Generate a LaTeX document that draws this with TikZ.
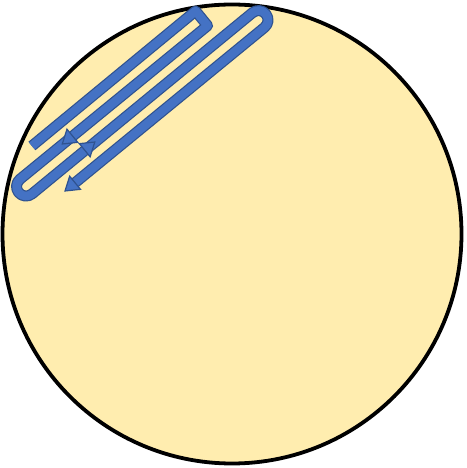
\documentclass[tikz,border=0pt]{standalone}
\usetikzlibrary{calc}
\definecolor{dishfill}{HTML}{FFEDAF}
\definecolor{streakblue}{HTML}{4472C4}
\definecolor{streakdark}{HTML}{2F528F}
\tikzset{
  dish/.style={draw=black, line width=3.8pt, fill=dishfill},
  streakout/.style={draw=streakdark, line width=11pt, line join=round, line cap=butt},
  streakin/.style={draw=streakblue, line width=8.6pt, line join=round, line cap=butt},
  headtri/.style={draw=streakdark, line width=1.2pt, fill=streakblue, line join=miter},
}
\begin{document}
\begin{tikzpicture}[x=1pt,y=1pt]
\useasboundingbox (0,0) rectangle (466,468);
\node[circle, dish, minimum size=459pt, inner sep=0pt] (plate) at (232,234) {};
% path points
\coordinate (s) at (31.9,322);
\coordinate (t1) at (195.6,457);
\coordinate (t2) at (207.6,442.3);
\coordinate (b2) at (20,288.8);
\coordinate (b3) at (32,274.2);
\coordinate (t3) at (252.5,455.3);
\coordinate (t4) at (264.5,440.7);
\coordinate (e) at (65,277);
\coordinate (ebase) at ($(e)+(39.34:11)$);
\coordinate (a2) at (62.3,324);
\coordinate (a3) at (94.8,326);
\foreach \st in {streakout,streakin}{
  \draw[\st] (s) -- (t1) -- (t2) -- (b2)
    arc[start angle=129.34, end angle=309.34, radius=9.5]
    -- (t3)
    arc[start angle=129.34, end angle=-50.66, radius=9.5]
    -- (ebase);
}
% arrow heads
\draw[headtri] (e) -- ($(e)+(39.34:13)+(129.34:8.5)$) -- ($(e)+(39.34:13)+(-50.66:8.5)$) -- cycle;
\draw[headtri] (a2) -- ($(a2)+(39.34:13)+(129.34:8.5)$) -- ($(a2)+(39.34:13)+(-50.66:8.5)$) -- cycle;
\draw[headtri] (a3) -- ($(a3)+(219.34:13)+(129.34:8.5)$) -- ($(a3)+(219.34:13)+(-50.66:8.5)$) -- cycle;
\end{tikzpicture}
\end{document}
